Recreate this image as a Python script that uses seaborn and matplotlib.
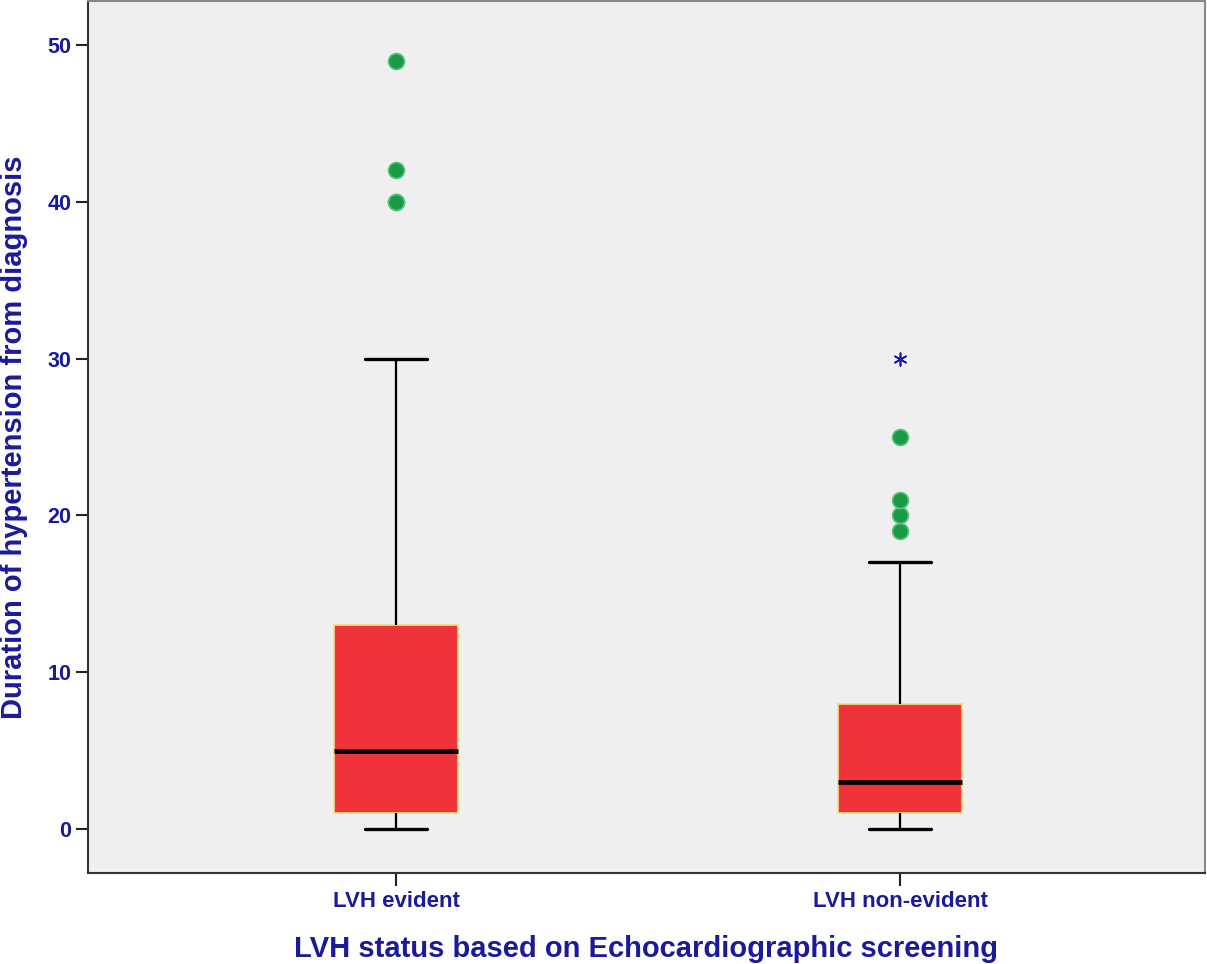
import matplotlib
matplotlib.use("Agg")
import matplotlib.pyplot as plt
import seaborn as sns
import pandas as pd

# Five-number summaries (min whisker, Q1, median, Q3, max whisker)
groups = ["LVH evident", "LVH non-evident"]
evident_summary = [0, 1, 5, 13, 30]
nonevident_summary = [0, 1, 3, 8, 17]

# Outliers (circles) and extreme values (asterisks)
evident_outliers = [40, 40, 42, 49]
nonevident_outliers = [19, 20, 21, 25]
nonevident_extremes = [30]

yticks = [0, 10, 20, 30, 40, 50]
xlabel = "LVH status based on Echocardiographic screening"
ylabel = "Duration of hypertension from diagnosis"

text_color = "#1a1a9c"
bg_color = "#efefef"

sns.set_theme(style="white")
plt.rcParams["font.family"] = ["Liberation Sans", "DejaVu Sans"]

summary = pd.DataFrame({
    "group": [groups[0]] * len(evident_summary) + [groups[1]] * len(nonevident_summary),
    "years": evident_summary + nonevident_summary,
})
outliers = pd.DataFrame({
    "group": [groups[0]] * len(evident_outliers) + [groups[1]] * len(nonevident_outliers),
    "years": evident_outliers + nonevident_outliers,
})
extremes = pd.DataFrame({
    "group": [groups[1]] * len(nonevident_extremes),
    "years": nonevident_extremes,
})

fig = plt.figure(figsize=(12.07, 9.64), dpi=100)
ax = fig.add_axes([88 / 1207, 1 - 873 / 964, (1205 - 88) / 1207, (873 - 1) / 964])
ax.set_facecolor(bg_color)

sns.boxplot(
    data=summary, x="group", y="years", order=groups, ax=ax,
    whis=(0, 100), width=0.246, showfliers=False,
    boxprops=dict(facecolor="#ef333a", edgecolor="#f3e27c", linewidth=1.2),
    medianprops=dict(color="black", linewidth=3.4),
    whiskerprops=dict(color="black", linewidth=1.6),
    capprops=dict(color="black", linewidth=2.4),
)

sns.stripplot(
    data=outliers, x="group", y="years", order=groups, ax=ax, jitter=False,
    color="#1a9a46", size=11.5, edgecolor="#5cc47e", linewidth=1.2, zorder=5,
)
sns.stripplot(
    data=extremes, x="group", y="years", order=groups, ax=ax, jitter=False,
    color=text_color, marker=(6, 2, 0), size=9, linewidth=1.2, zorder=5,
)

ax.set_xlim(-0.611, 1.605)
ax.set_ylim(-2.8, 52.8)
ax.set_yticks(yticks)
ax.set_yticklabels([str(t) for t in yticks])

ax.tick_params(axis="both", direction="out", length=9, width=1.5, color="#222222",
               labelcolor=text_color, left=True, bottom=True)
ax.tick_params(axis="y", pad=3)
ax.tick_params(axis="x", pad=4)
for lbl in ax.get_xticklabels():
    lbl.set_fontweight("bold")
    lbl.set_fontsize(16)
for lbl in ax.get_yticklabels():
    lbl.set_fontweight("bold")
    lbl.set_fontsize(15.5)

ax.set_xlabel(xlabel, fontsize=21, fontweight="bold", color=text_color)
ax.set_ylabel(ylabel, fontsize=21, fontweight="bold", color=text_color)
ax.xaxis.set_label_coords(0.5, -0.071)
ax.yaxis.set_label_coords(-0.054, 0.5)

for side, sp in ax.spines.items():
    sp.set_visible(True)
    sp.set_color("#333333" if side in ("left", "bottom") else "#888888")
    sp.set_linewidth(1.5)

fig.savefig("out.png", dpi=100, facecolor="white")
